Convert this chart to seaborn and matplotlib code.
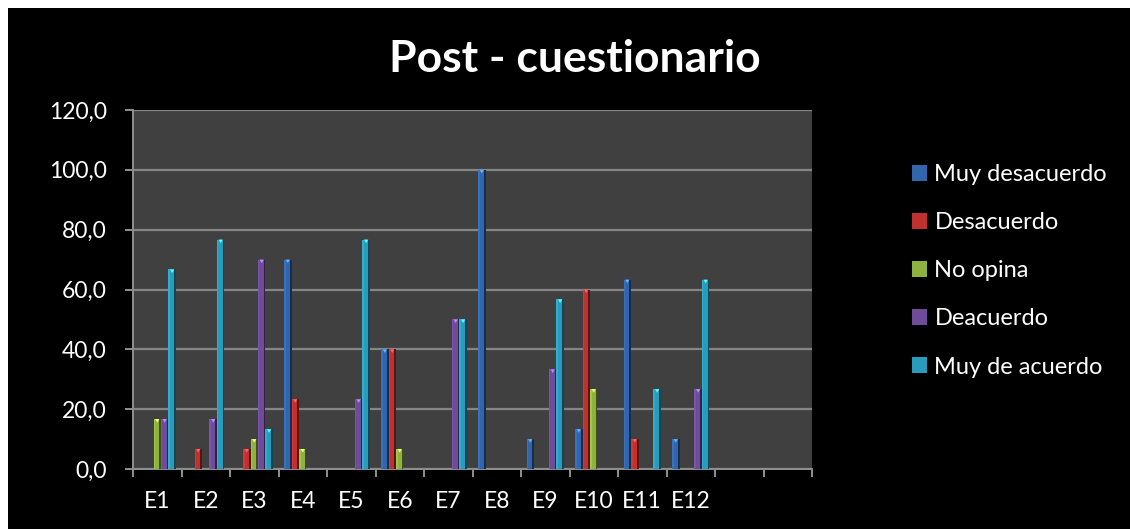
import matplotlib
matplotlib.use("Agg")
import matplotlib.pyplot as plt
import matplotlib.patches as mpatches
import numpy as np
import pandas as pd
import seaborn as sns

# Survey items and answer shares (%) per response option
items = ["E1", "E2", "E3", "E4", "E5", "E6", "E7", "E8", "E9", "E10", "E11", "E12"]
series = ["Muy desacuerdo", "Desacuerdo", "No opina", "Deacuerdo", "Muy de acuerdo"]
muy_desacuerdo = [0, 0, 0, 70.0, 0, 40.0, 0, 100.0, 10.0, 13.3, 63.3, 10.0]
desacuerdo     = [0, 6.7, 6.7, 23.3, 0, 40.0, 0, 0, 0, 60.0, 10.0, 0]
no_opina       = [16.7, 0, 10.0, 6.7, 0, 6.7, 0, 0, 0, 26.7, 0, 0]
deacuerdo      = [16.7, 16.7, 70.0, 0, 23.3, 0, 50.0, 0, 33.3, 0, 0, 26.7]
muy_de_acuerdo = [66.7, 76.7, 13.3, 0, 76.7, 0, 50.0, 0, 56.7, 0, 26.7, 63.3]
n_slots = 14  # category axis keeps two empty slots after E12
y_ticks = [0, 20, 40, 60, 80, 100, 120]

colors = ["#3166AC", "#C0302F", "#8DB23F", "#6E4C9A", "#2A9BBA"]

values = [muy_desacuerdo, desacuerdo, no_opina, deacuerdo, muy_de_acuerdo]
rows = []
for name, vals in zip(series, values):
    for item, v in zip(items, vals):
        if v > 0:
            rows.append({"item": item, "serie": name, "valor": v})
df = pd.DataFrame(rows)

sns.set_theme(style="dark")
plt.rcParams["font.family"] = ["Lato", "DejaVu Sans"]

W, H = 1130, 529
fig = plt.figure(figsize=(W / 100, H / 100), dpi=100, facecolor="white")
# black chart area inside a thin white margin (top and left)
fig.patches.append(mpatches.Rectangle((8 / W, 0), 1 - 8 / W, (H - 8) / H,
                                      transform=fig.transFigure,
                                      facecolor="black", edgecolor="none", zorder=-10))

ax = fig.add_axes([133 / W, 60 / H, (812 - 133) / W, 359 / H])
ax.set_facecolor("#404040")

sns.barplot(data=df, x="item", y="valor", hue="serie", order=items,
            hue_order=series, palette=colors, width=0.77, gap=0,
            saturation=1, linewidth=0, ax=ax, zorder=3)

# bevel shading: darker right edge, lighter left edge and a light cap on every bar
for p in list(ax.patches):
    x0, y0 = p.get_x(), p.get_y()
    w, h = p.get_width(), p.get_height()
    if h <= 0:
        continue
    fc = np.array(matplotlib.colors.to_rgb(p.get_facecolor()))
    ax.add_patch(mpatches.Rectangle((x0 + w * 0.78, y0), w * 0.22, h,
                                    facecolor=fc * 0.45, edgecolor="none", zorder=4))
    ax.add_patch(mpatches.Rectangle((x0, y0), w * 0.2, h,
                                    facecolor=np.minimum(fc * 1.12, 1), edgecolor="none", zorder=4))
    ax.add_patch(mpatches.Polygon([[x0 + w * 0.2, y0 + h], [x0 + w * 0.78, y0 + h],
                                   [x0 + w * 0.5, y0 + h - 1.2]],
                                  facecolor=np.minimum(fc * 1.5 + 0.1, 1),
                                  edgecolor="none", zorder=5))

ax.set_xlim(-0.5, n_slots - 0.5)
ax.set_ylim(0, 120)
ax.set_yticks(y_ticks)
ax.set_yticklabels([f"{t:.1f}".replace(".", ",") for t in y_ticks])
ax.set_xticks(range(len(items)))
ax.set_xticklabels(items)
ax.set_xticks(np.arange(-0.5, n_slots, 1), minor=True)

ax.grid(axis="y", color="#858585", linewidth=1.6, zorder=1)
ax.grid(axis="x", visible=False)
ax.set_axisbelow(True)
ax.tick_params(axis="x", which="major", length=0, pad=16, labelsize=16.5, colors="white")
ax.tick_params(axis="x", which="minor", length=6, width=1.4, color="#909090", direction="out", bottom=True)
ax.tick_params(axis="y", length=6, width=1.4, color="#909090", direction="out", left=True,
               pad=13, labelsize=16.5, labelcolor="white")
for s in ["top", "right"]:
    ax.spines[s].set_visible(False)
for s in ["left", "bottom"]:
    ax.spines[s].set_visible(True)
    ax.spines[s].set_color("#909090")
    ax.spines[s].set_linewidth(1.4)
ax.set_xlabel("")
ax.set_ylabel("")

leg = ax.legend(loc="upper left", bbox_to_anchor=(912 / W, (H - 164) / H), bbox_transform=fig.transFigure,
                frameon=False, fontsize=17, labelcolor="white", handlelength=0.65,
                handleheight=0.65, handletextpad=0.3, labelspacing=1.15, borderaxespad=0,
                borderpad=0)

fig.text(575 / W, (H - 59) / H, "Post - cuestionario", ha="center", va="center",
         fontsize=32, fontweight="bold", color="white")

fig.savefig("out.png", dpi=100, facecolor=fig.get_facecolor())
